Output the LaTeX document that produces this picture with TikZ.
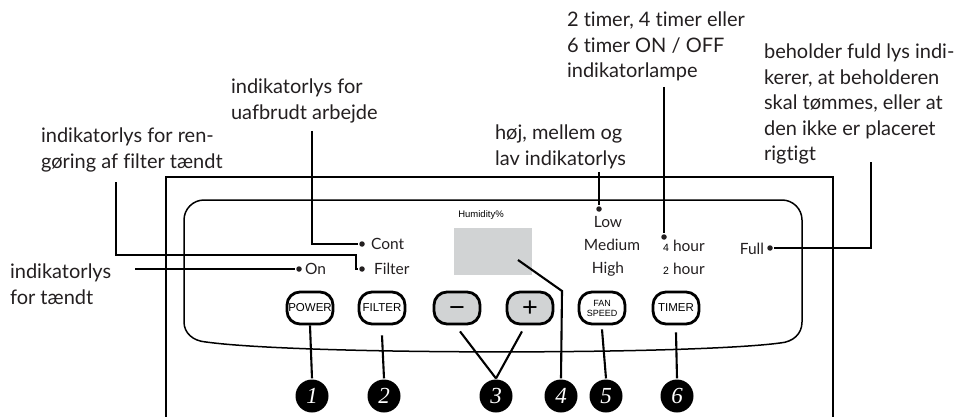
\documentclass[tikz,border=0pt]{standalone}
\usepackage{fontspec}
\setmainfont{Lato}[Ligatures=NoCommon]
\newfontfamily\arialfont{Liberation Sans}
\newfontfamily\digitfont{Liberation Serif}
\usetikzlibrary{positioning}
\definecolor{panelgrey}{HTML}{D1D3D4}
\definecolor{inkgrey}{HTML}{231F20}
\tikzset{every path/.style={line width=2.1pt}}
\tikzset{
  note/.style={anchor=north west, align=left, inner sep=0pt, text=inkgrey, font=\fontsize{20}{25.5}\selectfont},
  lamp/.style={inner sep=0pt, text=inkgrey, font=\fontsize{15.5}{17}\selectfont},
  smalldigit/.style={inner sep=0pt, font=\arialfont\fontsize{10.5}{10.5}\selectfont},
  ledot/.style={circle, fill=inkgrey, inner sep=0pt, minimum size=5.5pt},
  key/.style={draw, rounded corners=13pt, line width=2.8pt, minimum width=46pt, minimum height=32pt, inner sep=0pt, font=\arialfont\fontsize{11.5}{11.5}\selectfont},
  greykey/.style={key, fill=panelgrey, font=\arialfont\fontsize{27}{27}\selectfont},
  marker/.style={circle, fill=black, minimum size=33pt, inner sep=0pt, text=white, font=\digitfont\itshape\fontsize{23}{23}\selectfont}
}
\newcommand{\marknum}[3]{\node[marker] (n#1) at (#2,#3) {#1};}
\newcommand{\keysign}[1]{\raisebox{-8.5pt}[0pt][0pt]{#1}}

\begin{document}
\begin{tikzpicture}[x=1pt,y=-1pt]
  \useasboundingbox (0,0) rectangle (974,417);

  % housing and front panel
  \draw (166,417) -- (166,177) -- (833,177) -- (833,417);
  \draw[line width=1.5pt] (204,200) -- (782,200)
    .. controls (793,200) and (802,209) .. (802,220) -- (802,322)
    .. controls (802,334) and (793,342) .. (780,343)
    .. controls (690,355) and (300,355) .. (206,342)
    .. controls (193,341) and (184,333) .. (184,322) -- (184,220)
    .. controls (184,209) and (193,200) .. (204,200) -- cycle;

  % display
  \fill[panelgrey] (454,228) rectangle (532,275);
  \node[font=\arialfont\fontsize{9.5}{10}\selectfont] (hum) at (481,215) {Humidity\%};

  % indicator lamps
  \node[lamp, anchor=base west] (on) at (304,274) {On};
  \node[lamp, anchor=base west] (filter) at (373,274) {Filter};
  \node[lamp, anchor=base west] (cont) at (370,249) {Cont};
  \node[lamp, anchor=base] (low) at (608,227) {Low};
  \node[lamp, anchor=base] (medium) at (612,250) {Medium};
  \node[lamp, anchor=base] (high) at (608,273) {High};
  \node[lamp, anchor=base west] (hour4) at (672,251) {hour};
  \node[smalldigit, anchor=base east] (dig4) at ([xshift=-2pt]hour4.base west) {4};
  \node[lamp, anchor=base west] (hour2) at (672,274) {hour};
  \node[smalldigit, anchor=base east] (dig2) at ([xshift=-2pt]hour2.base west) {2};
  \node[lamp, anchor=base east] (full) at (765,254) {Full};

  \node[ledot] (don) at (299,269) {};
  \node[ledot] (dfilter) at (362,269) {};
  \node[ledot] (dcont) at (362,244) {};
  \node[ledot] (dlow) at (599,209) {};
  \node[ledot] (dhour) at (664,237) {};
  \node[ledot] (dfull) at (770,248) {};

  % keys
  \node[key] (power) at (310,308) {POWER};
  \node[key] (filt) at (382,308) {FILTER};
  \node[greykey] (minus) at (457,308) {\keysign{−}};
  \node[greykey] (plus) at (530,308) {\keysign{+}};
  \node[key, font=\arialfont\fontsize{9}{10}\selectfont, align=center] (fan) at (602,308) {FAN\\SPEED};
  \node[key] (timer) at (676,308) {TIMER};

  % numbered markers
  \marknum{1}{312}{396}
  \marknum{2}{384}{396}
  \marknum{3}{496}{396}
  \marknum{4}{561}{396}
  \marknum{5}{606}{396}
  \marknum{6}{677}{396}

  \draw (power.south) -- (n1.north);
  \draw ([yshift=-10pt]filt.south) -- (n2.north);
  \draw ([xshift=3pt,yshift=-6pt]minus.south) -- (n3.north);
  \draw ([xshift=-8pt,yshift=-6pt]plus.south) -- (n3.north);
  \coordinate (dsp) at (518,260);
  \draw (dsp) -- (562,291) -- (n4.north);
  \draw ([yshift=-4pt]fan.south) -- (n5.north);
  \draw ([yshift=-7pt]timer.south) -- (n6.north);

  % notes
  \node[note] (noteon) at (9,263) {indikatorlys\\for tændt};
  \node[note] (notefilter) at (40,127) {indikatorlys for ren-\\gøring af filter tændt};
  \node[note] (notecont) at (230,78) {indikatorlys for\\uafbrudt arbejde};
  \node[note] (notefan) at (494,124) {høj, mellem og\\lav indikatorlys};
  \node[note] (notetimer) at (566,11) {2 timer, 4 timer eller\\6 timer ON / OFF\\indikatorlampe};
  \node[note] (notefull) at (763,43) {beholder fuld lys indi-\\kerer, at beholderen\\skal tømmes, eller at\\den ikke er placeret\\rigtigt};

  % leaders
  \coordinate (ton) at (135,269);
  \coordinate (tfilter) at (116,182);
  \coordinate (kfilter) at (356,255);
  \coordinate (tcont) at (312,131);
  \coordinate (tlow) at (599,172);
  \coordinate (thour) at (664,87);
  \coordinate (tfull) at (871,162);
  \draw (ton) -- (don);
  \draw (tfilter) |- (kfilter) |- (dfilter);
  \draw (tcont) |- (dcont);
  \draw (tlow) -- (dlow);
  \draw (thour) -- (dhour);
  \draw (tfull) |- (dfull);
\end{tikzpicture}
\end{document}
